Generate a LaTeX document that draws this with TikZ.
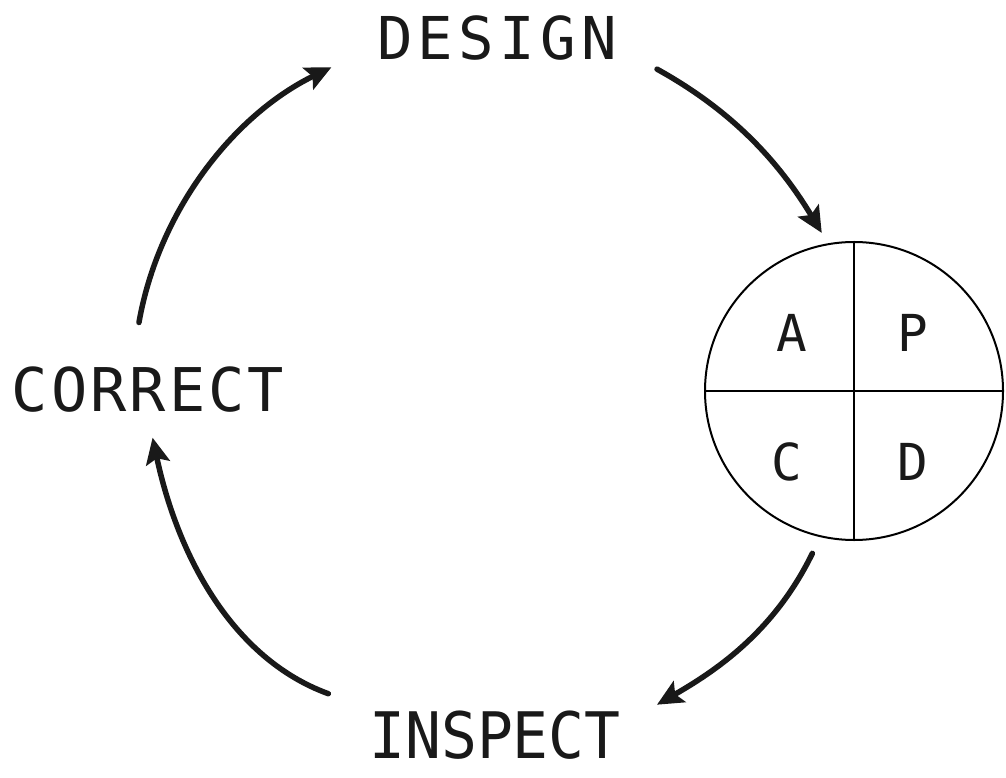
\documentclass[tikz,border=0pt]{standalone}
\usepackage{fontspec}
\newfontfamily\lettering{DejaVu Sans Mono}
\usetikzlibrary{arrows.meta}

\begin{document}
\begin{tikzpicture}[x=0.2mm, y=0.2mm,
    word/.style={inner sep=0.6mm, text=black!90},
    quad/.style={inner sep=0pt, text=black!90,
                 font=\lettering\fontsize{29}{34}\selectfont},
    flow/.style={line width=1.1mm, line cap=round, black!90,
                 -{Stealth[length=5.2mm, width=4.8mm, inset=1mm]}}]
    \useasboundingbox (0,0) rectangle (1006,777);
    \node[word, font=\lettering\fontsize{33.6}{40}\selectfont\addfontfeature{LetterSpace=9}]
        (design)  at (497,739) {DESIGN};
    \node[word, font=\lettering\fontsize{34.3}{40}\selectfont\addfontfeature{LetterSpace=5}]
        (correct) at (148,387) {CORRECT};
    \node[word, font=\lettering\fontsize{36.5}{43}\selectfont\addfontfeature{FakeStretch=0.93}]
        (inspect) at (495,42)  {INSPECT};
    \node[draw, circle, line width=0.4mm, minimum size=59.6mm, inner sep=0pt]
        (pdca) at (854,386) {};
    \draw[line width=0.25mm] (pdca.north) -- (pdca.south);
    \draw[line width=0.25mm] (pdca.west) -- (pdca.east);
    \node[quad] (a) at (792,444) {A};
    \node[quad] (p) at (913,444) {P};
    \node[quad] (c) at (787,315) {C};
    \node[quad] (d) at (913,315) {D};
    \draw[flow, shorten <=8.4mm, shorten >=2.4mm] (design.-5) to[out=-29, in=121] (pdca.100);
    \draw[flow, shorten <=3.6mm, shorten >=7.6mm] (pdca.257) to[out=-116, in=30] (inspect.5);
    \draw[flow, shorten <=8mm, shorten >=4.4mm] (inspect.north west) to[out=160, in=-78] (correct.south);
    \draw[flow, shorten <=8.4mm, shorten >=9.4mm] (correct.122) to[out=80, in=206] (design.184);
\end{tikzpicture}
\end{document}
